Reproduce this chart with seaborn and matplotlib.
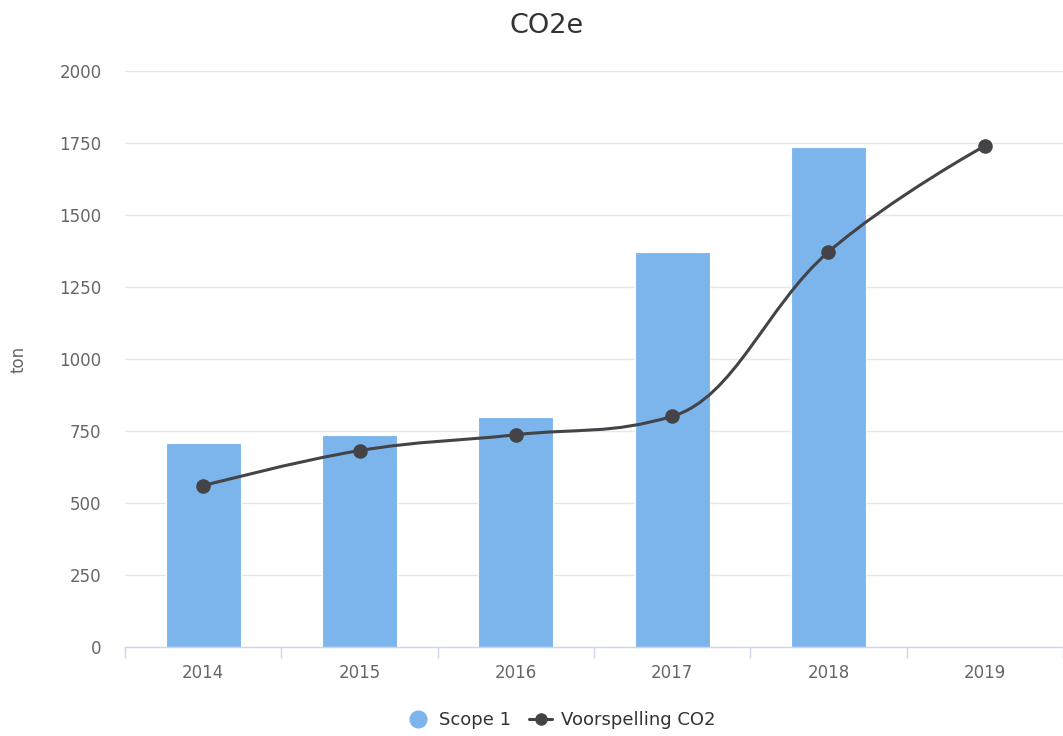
import numpy as np
import pandas as pd
import matplotlib
matplotlib.use("Agg")
import matplotlib.pyplot as plt
import seaborn as sns
from matplotlib.path import Path
from matplotlib.patches import PathPatch
from matplotlib.lines import Line2D

# data
years = ["2014", "2015", "2016", "2017", "2018", "2019"]
scope1 = [710, 736, 800, 1372, 1735, np.nan]
forecast = [560, 682, 737, 801, 1372, 1740]
y_ticks = [0, 250, 500, 750, 1000, 1250, 1500, 1750, 2000]

bar_color = "#7cb5ec"
line_color = "#434348"
text_color = "#666666"

df = pd.DataFrame({"Jaar": years, "Scope 1": scope1})

sns.set_theme(style="white")
plt.rcParams["font.family"] = ["DejaVu Sans"]

fig = plt.figure(figsize=(10.63, 7.36), dpi=100)
ax = fig.add_axes([125 / 1063, 1 - 647 / 736, 938 / 1063, (647 - 71) / 736])

for t in y_ticks[1:]:
    ax.axhline(t, color="#e6e6e6", lw=1, zorder=0)

sns.barplot(data=df, x="Jaar", y="Scope 1", order=years, color=bar_color,
            width=0.48, saturation=1, edgecolor="white", linewidth=0.8,
            ax=ax, zorder=2)


def spline_path(xs, ys, smoothing=1.5):
    # highcharts-style spline through the points
    denom = smoothing + 1
    n = len(xs)
    right = [None] * n
    verts = [(xs[0], ys[0])]
    codes = [Path.MOVETO]
    for i in range(1, n):
        px, py = xs[i], ys[i]
        lx, ly = xs[i - 1], ys[i - 1]
        lcx, lcy = px, py
        if i < n - 1:
            nx, ny = xs[i + 1], ys[i + 1]
            lcx = (smoothing * px + lx) / denom
            lcy = (smoothing * py + ly) / denom
            rcx = (smoothing * px + nx) / denom
            rcy = (smoothing * py + ny) / denom
            corr = (rcy - lcy) * (rcx - px) / (rcx - lcx) + py - rcy
            lcy += corr
            rcy += corr
            if lcy > ly and lcy > py:
                lcy = max(ly, py); rcy = 2 * py - lcy
            elif lcy < ly and lcy < py:
                lcy = min(ly, py); rcy = 2 * py - lcy
            if rcy > ny and rcy > py:
                rcy = max(ny, py); lcy = 2 * py - rcy
            elif rcy < ny and rcy < py:
                rcy = min(ny, py); lcy = 2 * py - rcy
            right[i] = (rcx, rcy)
        c1 = right[i - 1] if right[i - 1] is not None else (lx, ly)
        verts += [c1, (lcx, lcy), (px, py)]
        codes += [Path.CURVE4] * 3
    return Path(verts, codes)


xpos = np.arange(len(years))
ax.add_patch(PathPatch(spline_path(list(xpos), forecast), fill=False,
                       edgecolor=line_color, lw=2.2, zorder=3))
ax.scatter(xpos, forecast, s=110, color=line_color, zorder=4, linewidths=0)

ax.set_xlim(-0.5, 5.5)
ax.set_ylim(0, 2000)
ax.set_yticks(y_ticks)
ax.set_yticklabels([str(t) for t in y_ticks])
ax.set_xlabel("")
ax.set_ylabel("ton", fontsize=12, color=text_color)
ax.yaxis.set_label_coords(-97 / 938, 0.5)

for s in ["top", "right", "left"]:
    ax.spines[s].set_visible(False)
ax.spines["bottom"].set_color("#ccd6eb")
ax.spines["bottom"].set_linewidth(1)

ax.tick_params(axis="y", length=0, pad=17, labelsize=12, labelcolor=text_color)
ax.tick_params(axis="x", which="major", length=0, pad=12, labelsize=12,
               labelcolor=text_color)
ax.set_xticks(np.arange(-0.5, 6.0, 1.0), minor=True)
ax.tick_params(axis="x", which="minor", bottom=True, length=8, width=1,
               color="#ccd6eb")
ax.grid(False)

fig.text(547 / 1063, 1 - 26 / 736, "CO2e", ha="center", va="center",
         fontsize=19.5, color="#333333")

handles = [
    Line2D([], [], marker="o", linestyle="none", markersize=12,
           markerfacecolor=bar_color, markeredgecolor=bar_color),
    Line2D([], [], marker="o", color=line_color, lw=2.2, markersize=8),
]
fig.legend(handles, ["Scope 1", "Voorspelling CO2"], loc="center",
           bbox_to_anchor=(561 / 1063, 1 - 720 / 736), ncol=2, frameon=False,
           fontsize=13, labelcolor="#333333", handlelength=1.3,
           handletextpad=0.5, columnspacing=1.0)

fig.savefig("out.png", dpi=100)
